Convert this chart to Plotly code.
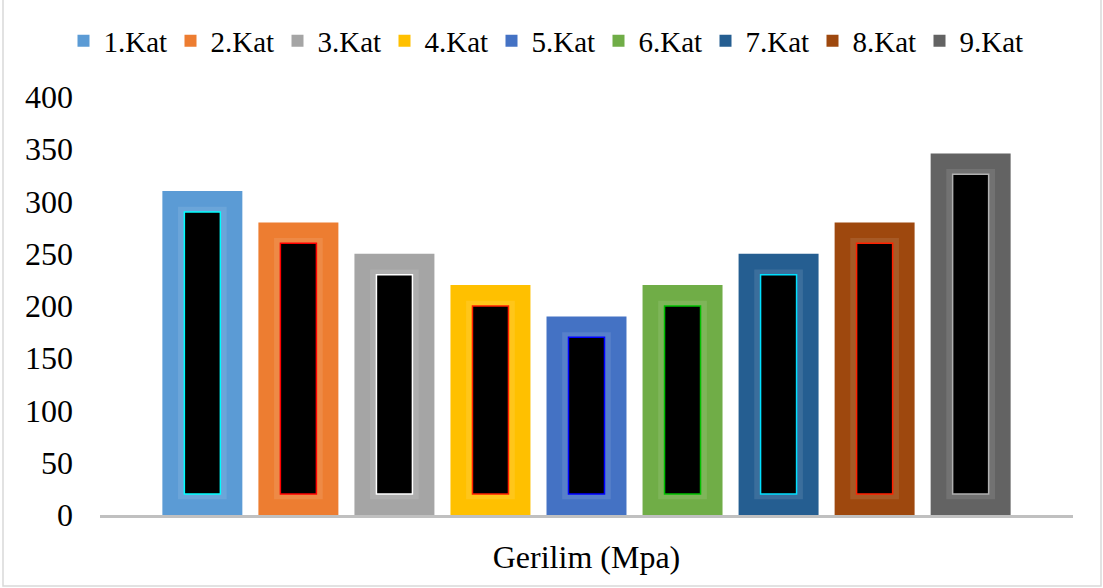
import plotly.graph_objects as go

# Stress per storey (Kat), single category
category = ["Gerilim (Mpa)"]
series = ["1.Kat", "2.Kat", "3.Kat", "4.Kat", "5.Kat", "6.Kat", "7.Kat", "8.Kat", "9.Kat"]
stress = [310, 280, 250, 220, 190, 220, 250, 280, 346]

fill_colors = ["#5B9BD5", "#ED7D31", "#A5A5A5", "#FFC000", "#4472C4",
               "#70AD47", "#255E91", "#9E480E", "#636363"]
edge_colors = ["#00FFFF", "#FF0000", "#FFFFFF", "#FF2000", "#0000FF",
               "#00C000", "#00E0FF", "#FF2000", "#B0B0B0"]
y_ticks = [0, 50, 100, 150, 200, 250, 300, 350, 400]

# geometry of the grouped layout inside the one category (category units)
slot = 0.0987
bar_w = 0.0822
band_w = 0.050
core_w = 0.037
inset_band = 15
inset_core = 20

fig = go.Figure()
n = len(series)
for i, (name, val, fc, ec) in enumerate(zip(series, stress, fill_colors, edge_colors)):
    centre = (i - (n - 1) / 2) * slot
    # outer coloured bar
    fig.add_trace(go.Bar(
        x=category, y=[val], name=name,
        width=bar_w, offset=centre - bar_w / 2,
        marker=dict(color=fc, line=dict(width=0)),
        showlegend=True, legendrank=i + 1,
        hovertemplate=name + ": %{y}<extra></extra>",
    ))
    # soft bevel band
    fig.add_trace(go.Bar(
        x=category, y=[val - 2 * inset_band], base=inset_band,
        width=band_w, offset=centre - band_w / 2,
        marker=dict(color="rgba(255,255,255,0.10)", line=dict(width=0)),
        showlegend=False, hoverinfo="skip",
    ))
    # black core with bright edge
    fig.add_trace(go.Bar(
        x=category, y=[val - 2 * inset_core], base=inset_core,
        width=core_w, offset=centre - core_w / 2,
        marker=dict(color="#000000", line=dict(color=ec, width=1.5)),
        showlegend=False, hoverinfo="skip",
    ))

L, R, T, B = 100, 30, 97, 73
W, H = 1103, 588
pw, ph = W - L - R, H - T - B
SERIF = "'Liberation Serif', 'Times New Roman', serif"
FS = 32

fig.update_layout(
    width=W, height=H,
    barmode="overlay",
    margin=dict(l=L, r=R, t=T, b=B, autoexpand=False),
    paper_bgcolor="white", plot_bgcolor="white",
    font=dict(family=SERIF, size=FS, color="#000000"),
    legend=dict(
        orientation="h", xref="container", x=545 / W, xanchor="center",
        yref="container", y=1 - 41 / H, yanchor="middle",
        font=dict(family=SERIF, size=29), itemwidth=30,
        entrywidth=62, entrywidthmode="pixels",
        traceorder="normal", bgcolor="rgba(0,0,0,0)",
    ),
    xaxis=dict(
        type="category", range=[-0.5, 0.5],
        showline=True, linecolor="#C0C0C0", linewidth=3,
        showgrid=False, zeroline=False, ticks="", ticklabelstandoff=12,
        tickfont=dict(family=SERIF, size=FS),
        fixedrange=True,
    ),
    yaxis=dict(
        range=[0, 400], tickvals=y_ticks,
        showline=False, showgrid=False, zeroline=False,
        ticks="", ticklabelstandoff=26, fixedrange=True,
        tickfont=dict(family=SERIF, size=FS),
    ),
    shapes=[dict(
        type="rect", xref="paper", yref="paper",
        x0=(3 - L) / pw, x1=(1101 - L) / pw,
        y0=-(586 - (H - B)) / ph, y1=(H - B + 10) / ph,
        line=dict(color="#D9D9D9", width=1.5), fillcolor="rgba(0,0,0,0)", layer="below",
    )],
)

fig.write_html("out.html")
